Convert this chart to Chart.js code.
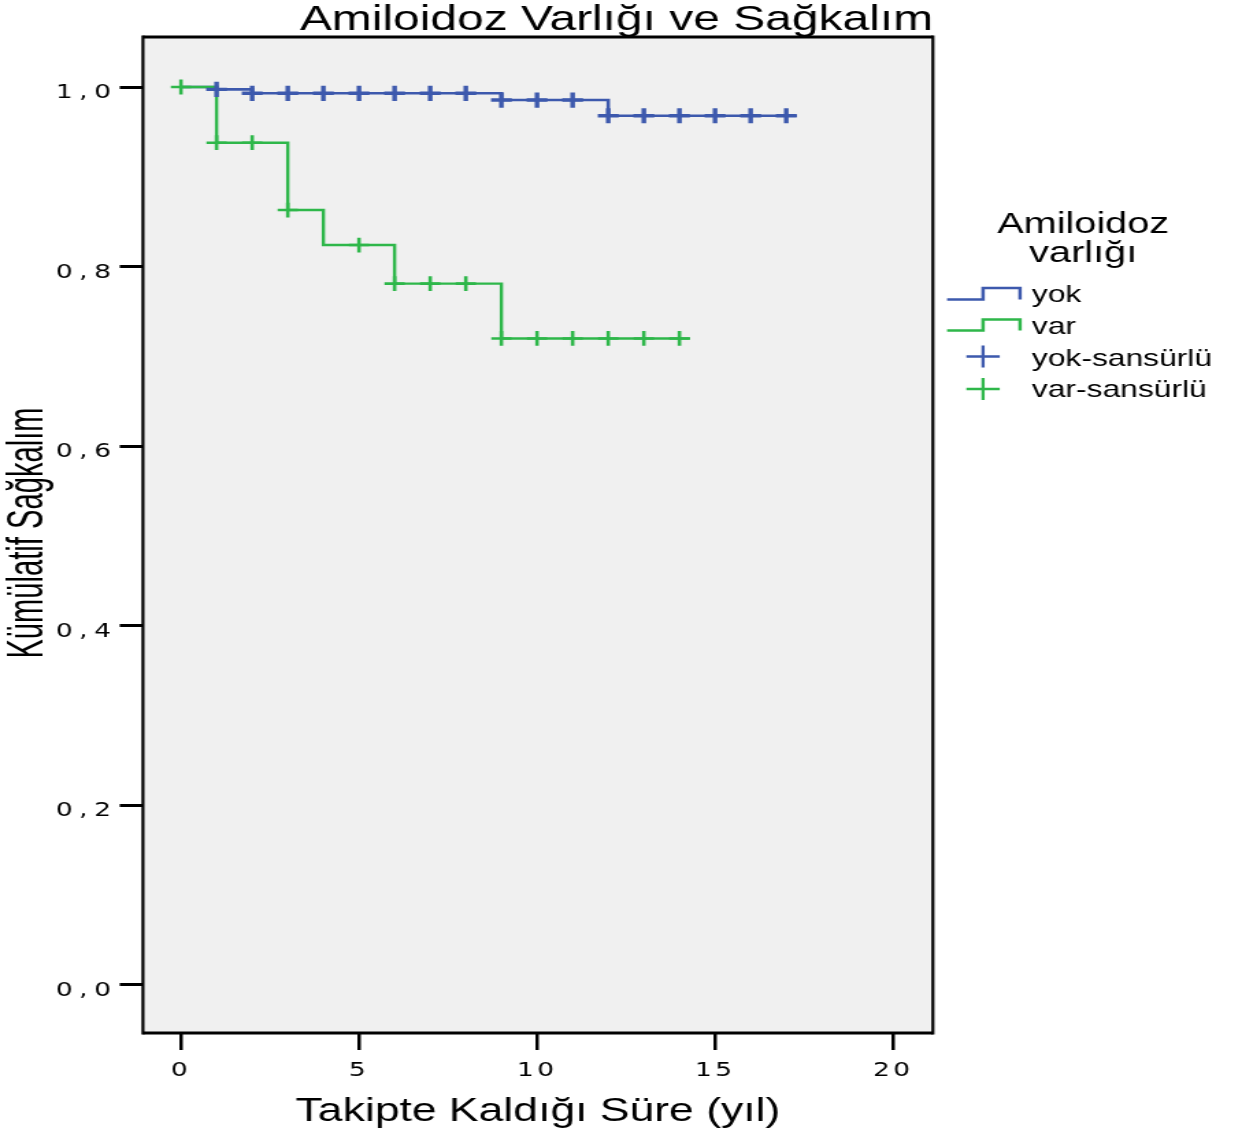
<!DOCTYPE html>
<html>
<head>
<meta charset="utf-8">
<script src="https://cdn.jsdelivr.net/npm/chart.js@4.4.1/dist/chart.umd.min.js"></script>
<style>
  html, body { margin: 0; padding: 0; background: #fff; }
  #km { display: block; }
</style>
</head>
<body>
<canvas id="km" width="907" height="1136" style="width:1242px;height:1136px"></canvas>
<script>
// Kaplan-Meier basamakları (yıl, kümülatif sağkalım)
const yokTime = [0, 1, 2, 9, 12, 17.3];
const yokSurv = [1.0, 0.9974, 0.993, 0.9855, 0.968, 0.968];
const varTime = [0, 1, 3, 4, 6, 9, 14.3];
const varSurv = [1.0, 0.938, 0.863, 0.824, 0.781, 0.72, 0.72];

// sansürlü gözlemler
const yokCensTime = [1, 2, 3, 4, 5, 6, 7, 8, 9, 10, 11, 12, 13, 14, 15, 16, 17];
const yokCensSurv = [0.9974, 0.993, 0.993, 0.993, 0.993, 0.993, 0.993, 0.993, 0.9855, 0.9855, 0.9855, 0.968, 0.968, 0.968, 0.968, 0.968, 0.968];
const varCensTime = [0, 1, 2, 3, 5, 6, 7, 8, 9, 10, 11, 12, 13, 14];
const varCensSurv = [1.0, 0.938, 0.938, 0.863, 0.824, 0.781, 0.781, 0.781, 0.72, 0.72, 0.72, 0.72, 0.72, 0.72];

const xTicks = [0, 5, 10, 15, 20];
const yTicks = [0, 0.2, 0.4, 0.6, 0.8, 1.0];
const groupLabels = ["yok", "var"];
const censLabels = ["yok-sansürlü", "var-sansürlü"];
const legendTitle = ["Amiloidoz", "varlığı"];
const yTitle = "Kümülatif Sağkalım";

const BLUE = "#3d59ad";
const GREEN = "#2eb74a";
const SANS = "'Liberation Sans', Arial, sans-serif";
const TICKFONT = "'DejaVu Sans', sans-serif";

const toPts = (xs, ys) => xs.map((x, i) => ({ x: x, y: ys[i] }));

// eksen rakamlarını harf aralığıyla çiz
function spacedLabels(spacing) {
  return (scale) => {
    if (scale._spaced) return;
    const base = scale.drawLabels;
    scale.drawLabels = function (area) {
      const c = this.ctx;
      c.save();
      c.letterSpacing = spacing;
      base.call(this, area);
      c.restore();
    };
    scale._spaced = true;
  };
}

// gri çizim alanı ve çerçeve
const plotFrame = {
  id: "plotFrame",
  beforeDraw(chart) {
    const { ctx, chartArea: a } = chart;
    ctx.save();
    ctx.fillStyle = "#f0f0f0";
    ctx.fillRect(a.left, a.top, a.right - a.left, a.bottom - a.top);
    ctx.strokeStyle = "#000";
    ctx.lineWidth = 3;
    ctx.beginPath();
    ctx.moveTo(a.left, a.top); ctx.lineTo(a.right, a.top);
    ctx.moveTo(a.left, a.bottom); ctx.lineTo(a.right, a.bottom);
    ctx.stroke();
    ctx.lineWidth = 2.2;
    ctx.beginPath();
    ctx.moveTo(a.left, a.top - 1.5); ctx.lineTo(a.left, a.bottom + 1.5);
    ctx.moveTo(a.right, a.top - 1.5); ctx.lineTo(a.right, a.bottom + 1.5);
    ctx.stroke();
    ctx.restore();
  }
};

// dikey eksen başlığı (daraltılmış yazı)
const yAxisTitle = {
  id: "yAxisTitle",
  afterDraw(chart) {
    const { ctx, chartArea: a } = chart;
    ctx.save();
    ctx.translate(21.5, (a.top + a.bottom) / 2 - 2);
    ctx.rotate(-Math.PI / 2);
    ctx.scale(0.81, 1);
    ctx.font = "36px " + SANS;
    ctx.fillStyle = "#000";
    ctx.textAlign = "center";
    ctx.textBaseline = "middle";
    ctx.fillText(yTitle, 0, 0);
    ctx.restore();
  }
};

// sağdaki açıklama kutusu
const kmLegend = {
  id: "kmLegend",
  afterDraw(chart) {
    const ctx = chart.ctx;
    ctx.save();
    ctx.fillStyle = "#000";
    ctx.font = "29px " + SANS;
    ctx.textAlign = "center";
    ctx.textBaseline = "middle";
    ctx.fillText(legendTitle[0], 791, 224.6);
    ctx.fillText(legendTitle[1], 791, 254);

    const colors = [BLUE, GREEN];
    const stepY = [[299.5, 288], [330.5, 319.5]];
    ctx.lineWidth = 2.5;
    stepY.forEach((yy, i) => {
      ctx.strokeStyle = colors[i];
      ctx.beginPath();
      ctx.moveTo(691.6, yy[0]);
      ctx.lineTo(717.9, yy[0]);
      ctx.lineTo(717.9, yy[1]);
      ctx.lineTo(744.9, yy[1]);
      ctx.lineTo(744.9, yy[0]);
      ctx.stroke();
    });
    const crossY = [356.5, 389];
    ctx.lineWidth = 2.3;
    crossY.forEach((cy, i) => {
      ctx.strokeStyle = colors[i];
      ctx.beginPath();
      ctx.moveTo(717.9 - 12.2, cy); ctx.lineTo(717.9 + 12.2, cy);
      ctx.moveTo(717.9, cy - 11); ctx.lineTo(717.9, cy + 11);
      ctx.stroke();
    });

    ctx.fillStyle = "#000";
    ctx.font = "23.2px " + SANS;
    ctx.textAlign = "left";
    const labels = groupLabels.concat(censLabels);
    const textY = [296, 327.7, 359.2, 390.5];
    labels.forEach((t, i) => ctx.fillText(t, 753.6, textY[i]));
    ctx.restore();
  }
};

const ctx = document.getElementById("km").getContext("2d");
new Chart(ctx, {
  type: "scatter",
  data: {
    datasets: [
      {
        label: censLabels[0],
        data: toPts(yokCensTime, yokCensSurv),
        pointStyle: "cross",
        pointRadius: 7.6,
        pointBorderWidth: 3.4,
        pointBorderColor: BLUE,
        pointBackgroundColor: BLUE
      },
      {
        label: censLabels[1],
        data: toPts(varCensTime, varCensSurv),
        pointStyle: "cross",
        pointRadius: 7.4,
        pointBorderWidth: 2.6,
        pointBorderColor: GREEN,
        pointBackgroundColor: GREEN
      },
      {
        label: groupLabels[1],
        data: toPts(varTime, varSurv),
        showLine: true,
        stepped: "before",
        borderColor: GREEN,
        borderWidth: 2.4,
        pointRadius: 0,
        fill: false
      },
      {
        label: groupLabels[0],
        data: toPts(yokTime, yokSurv),
        showLine: true,
        stepped: "before",
        borderColor: BLUE,
        borderWidth: 2.6,
        pointRadius: 0,
        fill: false
      }
    ]
  },
  options: {
    responsive: false,
    animation: false,
    events: [],
    devicePixelRatio: 1,
    layout: { padding: { left: 0, right: 225.7, top: 0, bottom: 0 } },
    plugins: {
      legend: { display: false },
      tooltip: { enabled: false },
      title: {
        display: true,
        align: "end",
        text: "Amiloidoz Varlığı ve Sağkalım",
        color: "#000",
        padding: { top: 3, bottom: -1 },
        font: { family: SANS, size: 35, weight: "normal", lineHeight: 1 }
      }
    },
    scales: {
      x: {
        type: "linear",
        min: -1.067,
        max: 21.12,
        afterBuildTicks: (s) => { s.ticks = xTicks.map(v => ({ value: v })); },
        afterFit: (s) => { s.height = 103; },
        afterUpdate: spacedLabels("2.4px"),
        border: { display: false },
        grid: { drawOnChartArea: false, drawTicks: true, tickLength: 17, color: "#000", lineWidth: 2.5 },
        ticks: {
          color: "#000",
          padding: 9.5,
          maxRotation: 0,
          font: { family: TICKFONT, size: 19.4 }
        },
        title: {
          display: true,
          text: "Takipte Kaldığı Süre (yıl)",
          color: "#000",
          padding: { top: 0, bottom: 7.5 },
          font: { family: SANS, size: 32.5, lineHeight: 1 }
        }
      },
      y: {
        type: "linear",
        min: -0.0535,
        max: 1.0557,
        afterBuildTicks: (s) => { s.ticks = yTicks.map(v => ({ value: v })); },
        afterFit: (s) => { s.width = 104.4; },
        afterUpdate: spacedLabels("4.8px"),
        border: { display: false },
        grid: { drawOnChartArea: false, drawTicks: true, tickLength: 17, color: "#000", lineWidth: 3 },
        ticks: {
          color: "#000",
          padding: 1.5,
          labelOffset: 6,
          font: { family: TICKFONT, size: 19.4 },
          callback: (v) => v.toFixed(1).replace(".", ",")
        }
      }
    }
  },
  plugins: [plotFrame, yAxisTitle, kmLegend]
});
</script>
</body>
</html>
